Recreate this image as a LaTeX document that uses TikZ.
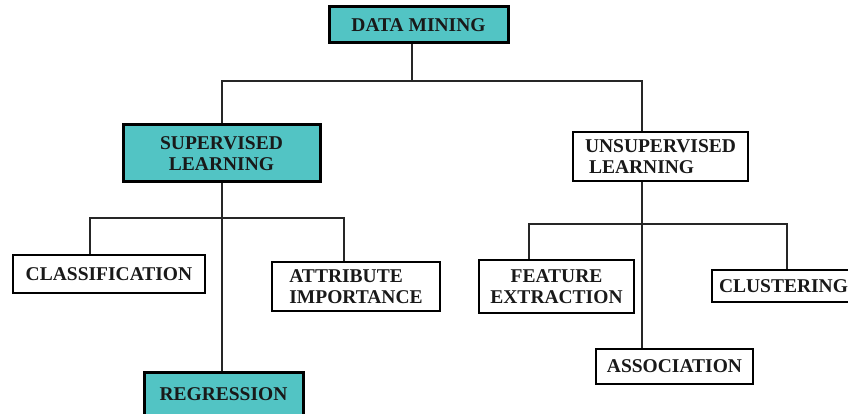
\documentclass[tikz,border=0pt]{standalone}
\usepackage{fontspec}
\setmainfont{Liberation Serif}
\definecolor{teal1}{RGB}{82,196,196}
\begin{document}
\begin{tikzpicture}[x=1pt,y=-1pt,
  box/.style={draw=black, line width=2.3pt, rectangle, inner sep=0pt,
    font=\fontsize{19.5}{21}\selectfont\bfseries, align=center, text=black!90},
  tealbox/.style={box, fill=teal1, line width=3pt},
  conn/.style={draw=black!85, line width=2pt}]
\useasboundingbox (0,0) rectangle (848,414);
\fill[white] (0,0) rectangle (848,414);
% nodes
\node[tealbox, minimum width=179, minimum height=36] (dm) at (418.5,25) {DATA MINING};
\node[tealbox, minimum width=197, minimum height=57] (sl) at (221.5,153.5) {SUPERVISED\\LEARNING};
\node[box, minimum width=175, minimum height=49, align=left] (ul) at (660.5,156.5) {UNSUPERVISED\\\hspace{4pt}LEARNING};
\node[box, minimum width=192, minimum height=38] (cl) at (109,274) {CLASSIFICATION};
\node[box, minimum width=168, minimum height=49, align=left] (ai) at (356,286.5) {ATTRIBUTE\\IMPORTANCE};
\node[tealbox, minimum width=159, minimum height=44] (rg) at (223.5,394) {REGRESSION};
\node[box, minimum width=155, minimum height=53] (fe) at (556.5,286.5) {FEATURE\\EXTRACTION};
\node[box, minimum width=143, minimum height=32] (cu) at (783.5,286) {CLUSTERING};
\node[box, minimum width=157, minimum height=35] (as) at (674.5,366.5) {ASSOCIATION};
% junction coordinates
\coordinate (h1m) at (412,81);
\coordinate (h1l) at (222,81);
\coordinate (h1r) at (642,81);
\coordinate (h2l) at (90,218);
\coordinate (h2r) at (344,218);
\coordinate (h3l) at (529,224);
\coordinate (h3r) at (787,224);
% connectors
\draw[conn] (h1m |- dm.south) -- (h1m);
\draw[conn] (h1l |- sl.north) -- (h1l) -- (h1r) -- (h1r |- ul.north);
\draw[conn] (h1l |- sl.south) -- (h1l |- rg.north);
\draw[conn] (h2l |- cl.north) -- (h2l) -- (h2r) -- (h2r |- ai.north);
\draw[conn] (h1r |- ul.south) -- (h1r |- as.north);
\draw[conn] (h3l |- fe.north) -- (h3l) -- (h3r) -- (h3r |- cu.north);
\end{tikzpicture}
\end{document}
